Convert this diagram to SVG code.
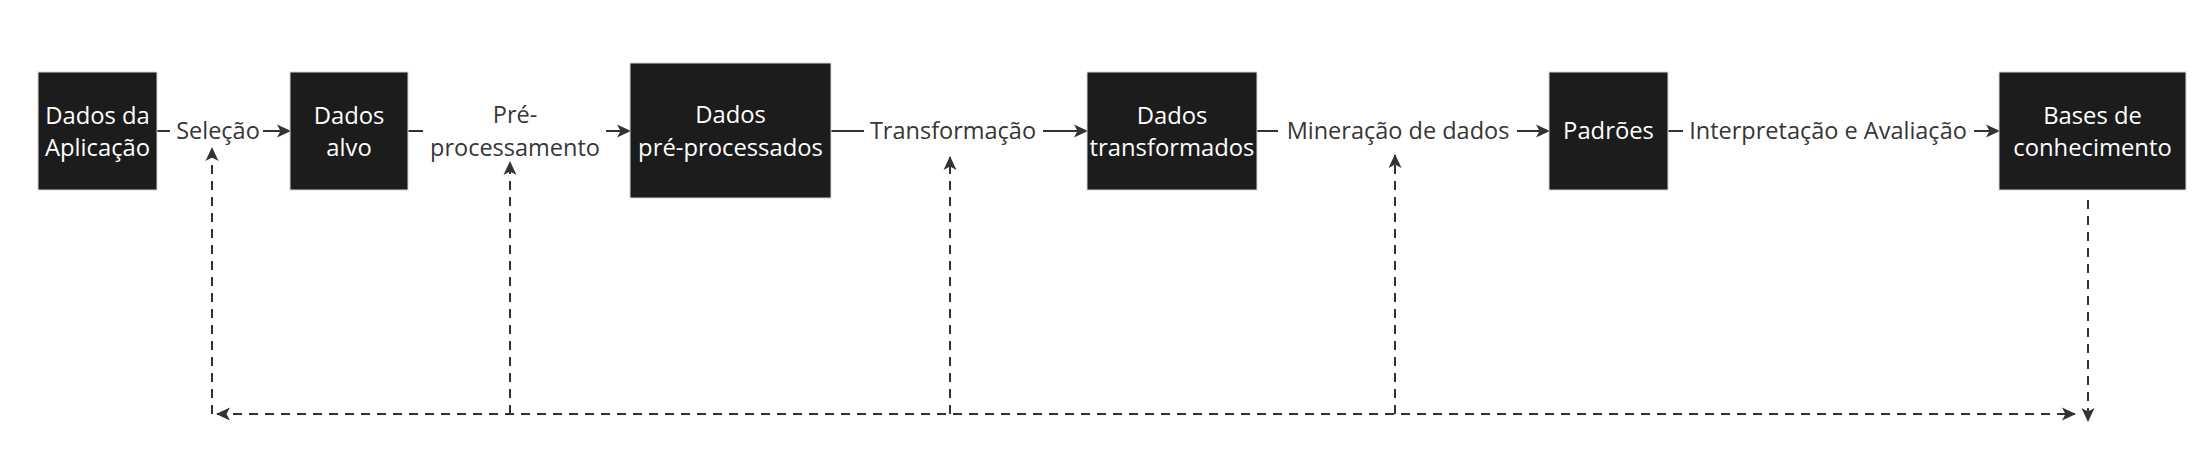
<svg xmlns="http://www.w3.org/2000/svg" width="2210" height="452" viewBox="0 0 2210 452">
<style>
.box{fill:#1c1c1c;stroke:#d6d6d6;stroke-width:1}
.bt{font-family:"Open Sans","Noto Sans",sans-serif;font-size:23.8px;fill:#ffffff;text-anchor:middle}
.lt{font-family:"Open Sans","Noto Sans",sans-serif;font-size:23.5px;fill:#363636;text-anchor:middle}
.ln{fill:none;stroke:#333333;stroke-width:2}
.dl{fill:none;stroke:#333333;stroke-width:2;stroke-dasharray:9 7}
</style>
<defs>
<marker id="ah" viewBox="0 0 14 14" refX="13" refY="7" markerWidth="14" markerHeight="14" markerUnits="userSpaceOnUse" orient="auto-start-reverse">
<path d="M0,0.5 L14,7 L0,13.5 L3.5,7 z" fill="#333333"/>
</marker>
</defs>
<rect width="2210" height="452" fill="#ffffff"/>
<g id="connectors">
<path class="ln" d="M157,131 H170"/>
<path class="ln" d="M263,131 H290" marker-end="url(#ah)"/>
<path class="ln" d="M408,131 H423"/>
<path class="ln" d="M606,131 H630" marker-end="url(#ah)"/>
<path class="ln" d="M831,131 H864"/>
<path class="ln" d="M1043,131 H1087" marker-end="url(#ah)"/>
<path class="ln" d="M1257,131 H1278"/>
<path class="ln" d="M1517,131 H1549" marker-end="url(#ah)"/>
<path class="ln" d="M1668,131 H1683"/>
<path class="ln" d="M1974,131 H1999" marker-end="url(#ah)"/>
<path class="dl" d="M2088,200 V421" marker-end="url(#ah)"/>
<path class="dl" d="M217,414 H2075" marker-start="url(#ah)" marker-end="url(#ah)"/>
<path class="dl" d="M212,414 V148" marker-end="url(#ah)"/>
<path class="dl" d="M510,414 V162" marker-end="url(#ah)"/>
<path class="dl" d="M950,414 V157" marker-end="url(#ah)"/>
<path class="dl" d="M1395,414 V155" marker-end="url(#ah)"/>
<text class="lt" x="218" y="139">Seleção</text>
<text class="lt" x="515" y="123">Pré-</text>
<text class="lt" x="515" y="156">processamento</text>
<text class="lt" x="953" y="139">Transformação</text>
<text class="lt" x="1398" y="139">Mineração de dados</text>
<text class="lt" x="1828" y="139">Interpretação e Avaliação</text>
</g>
<g id="n1"><rect class="box" x="38" y="72" width="119" height="118"/><text class="bt" x="97.5" y="124">Dados da</text><text class="bt" x="97.5" y="156">Aplicação</text></g>
<g id="n2"><rect class="box" x="290" y="72" width="118" height="118"/><text class="bt" x="349" y="124">Dados</text><text class="bt" x="349" y="156">alvo</text></g>
<g id="n3"><rect class="box" x="630" y="63" width="201" height="135"/><text class="bt" x="730.5" y="123">Dados</text><text class="bt" x="730.5" y="156">pré-processados</text></g>
<g id="n4"><rect class="box" x="1087" y="72" width="170" height="118"/><text class="bt" x="1172" y="124">Dados</text><text class="bt" x="1172" y="156">transformados</text></g>
<g id="n5"><rect class="box" x="1549" y="72" width="119" height="118"/><text class="bt" x="1608.5" y="139">Padrões</text></g>
<g id="n6"><rect class="box" x="1999" y="72" width="187" height="118"/><text class="bt" x="2092.5" y="124">Bases de</text><text class="bt" x="2092.5" y="156">conhecimento</text></g>
</svg>
